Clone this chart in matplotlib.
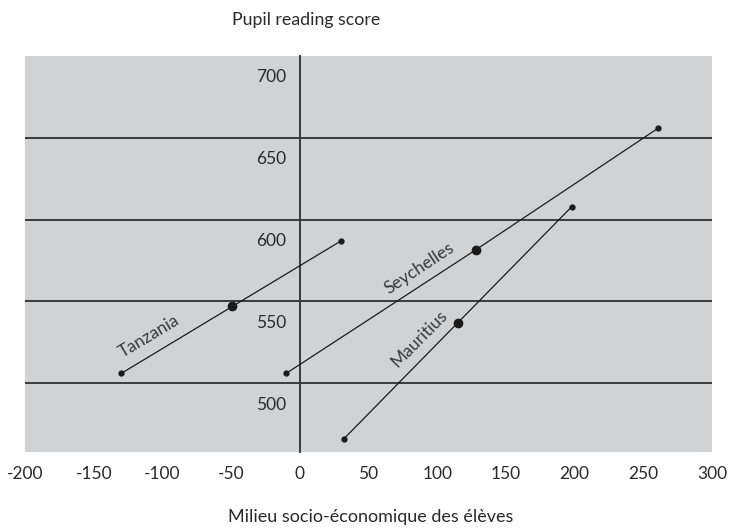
import matplotlib
matplotlib.use("Agg")
import matplotlib.pyplot as plt
import matplotlib.transforms as mtransforms

plt.rcParams['font.family'] = ['Lato', 'DejaVu Sans']

countries = ['Tanzania', 'Seychelles', 'Mauritius']
ses_low = [-130, -10, 32]
ses_mid = [-49, 128, 115]
ses_high = [30, 261, 198]
score_low = [506, 506, 466]
score_mid = [547, 581.5, 537]
score_high = [587, 656, 608]

label_x = [-110, 87, 87]
label_y = [529, 570, 527]
label_rot = [31, 33.5, 45.5]

y_ticks = [500, 550, 600, 650, 700]
x_ticks = [-200, -150, -100, -50, 0, 50, 100, 150, 200, 250, 300]

fig = plt.figure(figsize=(7.29, 5.28), dpi=100)
ax = fig.add_axes([25 / 729, 76 / 528, 687 / 729, 396 / 528])
ax.set_facecolor('#d1d2d4')
ax.set_xlim(-200, 300)
ax.set_ylim(458, 700)

for v in y_ticks[:-1]:
    ax.axhline(v, color='#3a3a3a', lw=1.4, zorder=1)

for spine in ['top', 'right', 'bottom']:
    ax.spines[spine].set_visible(False)
ax.spines['left'].set_position(('data', 0))
ax.spines['left'].set_color('#3a3a3a')
ax.spines['left'].set_linewidth(1.4)

for i, name in enumerate(countries):
    xs = [ses_low[i], ses_mid[i], ses_high[i]]
    ys = [score_low[i], score_mid[i], score_high[i]]
    ax.plot(xs, ys, color='#1a1a1a', lw=0.9, zorder=3)
    ax.plot([xs[0], xs[2]], [ys[0], ys[2]], 'o', color='#1a1a1a', ms=3.5, zorder=4)
    ax.plot(xs[1], ys[1], 'o', color='#1a1a1a', ms=6, zorder=4)
    ax.text(label_x[i], label_y[i], name, rotation=label_rot[i], rotation_mode='anchor',
            ha='center', va='center', fontsize=12.5, color='#3a3a3a', zorder=5)

ax.set_yticks(y_ticks)
ax.set_yticklabels([str(v) for v in y_ticks])
ax.tick_params(axis='y', length=0, pad=10, labelsize=12.5, labelcolor='#2a2a2a')
offset = mtransforms.ScaledTranslation(0, -20 / 100, fig.dpi_scale_trans)
for lbl in ax.get_yticklabels():
    lbl.set_transform(lbl.get_transform() + offset)

ax.set_xticks(x_ticks)
ax.set_xticklabels([str(v) for v in x_ticks])
ax.tick_params(axis='x', length=0, pad=10, labelsize=12.5, labelcolor='#2a2a2a')

fig.text(306 / 729, 1 - 20 / 528, 'Pupil reading score', ha='center', va='center',
         fontsize=12.8, color='#2a2a2a')
fig.text(371 / 729, 1 - 517 / 528, 'Milieu socio-économique des élèves', ha='center',
         va='center', fontsize=13, color='#2a2a2a')

fig.savefig('out.png', dpi=100)
